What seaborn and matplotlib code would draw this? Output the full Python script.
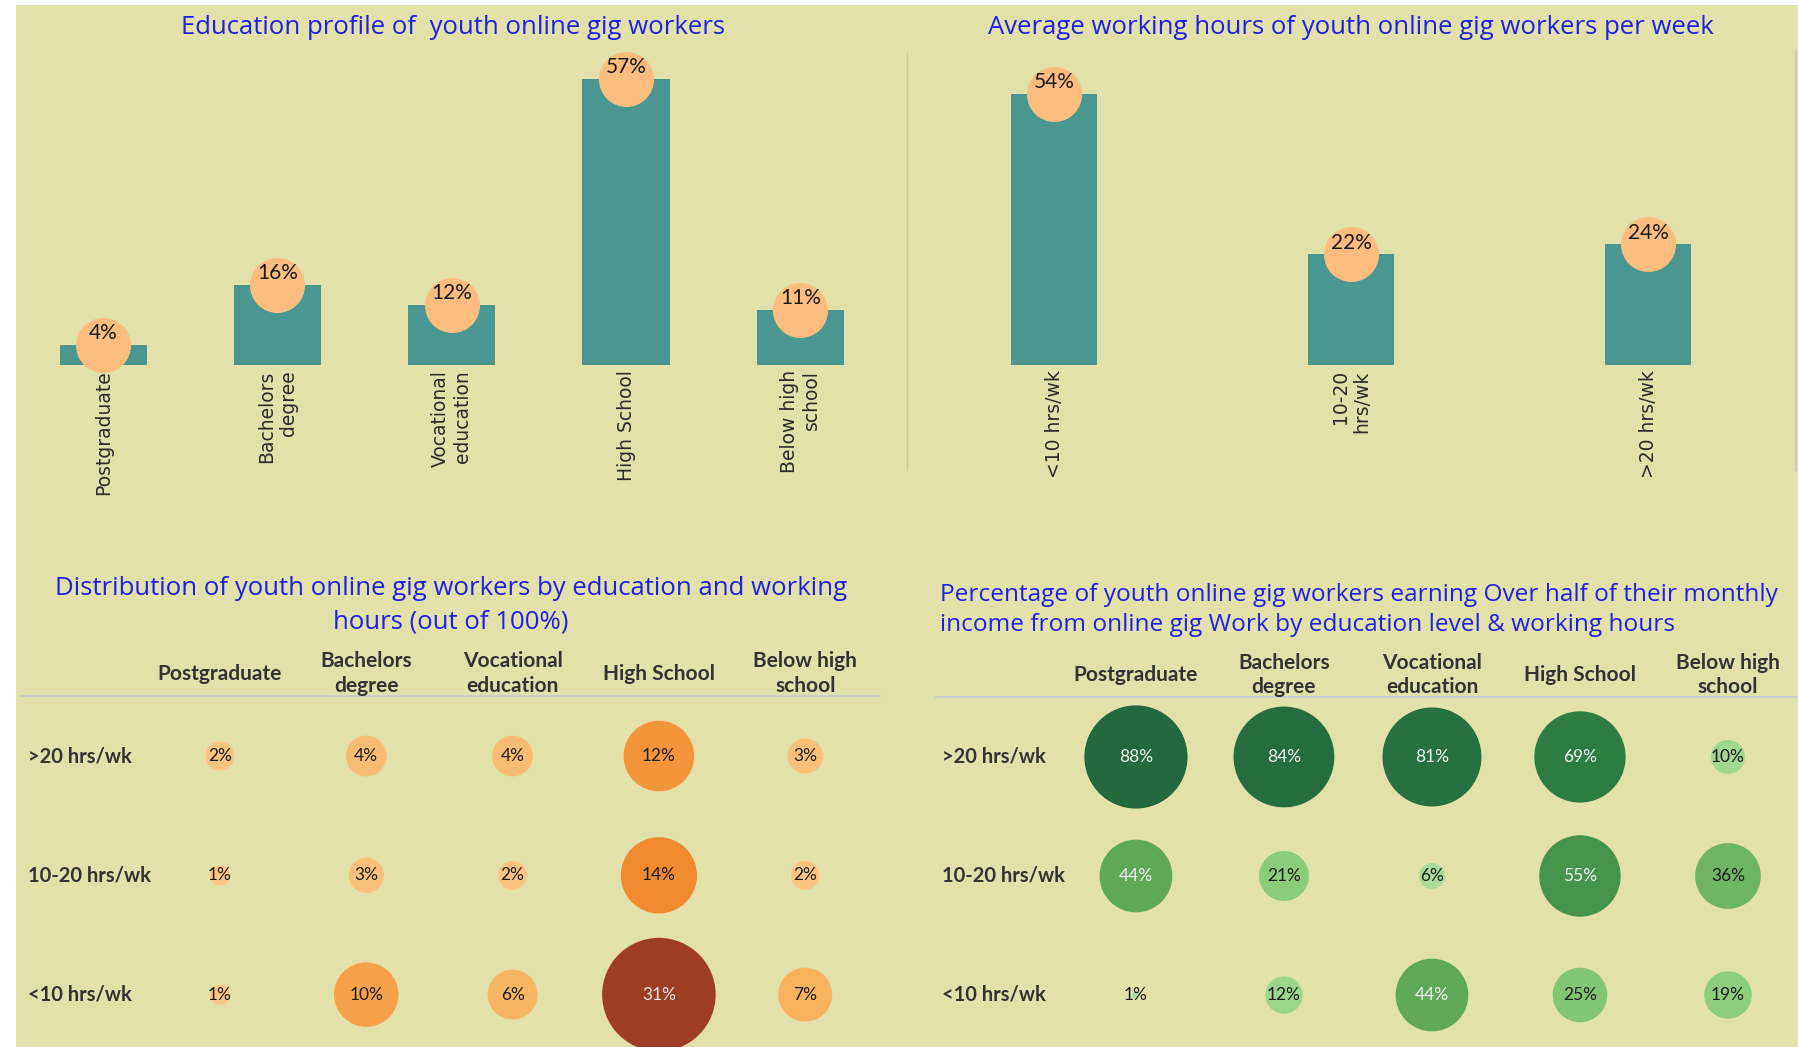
import numpy as np
import pandas as pd
import seaborn as sns
import matplotlib.pyplot as plt
from matplotlib.colors import LinearSegmentedColormap, Normalize
from matplotlib.lines import Line2D
from matplotlib.patches import Rectangle

# --- data ---
edu_labels = ['Postgraduate', 'Bachelors\ndegree', 'Vocational\neducation', 'High School', 'Below high\nschool']
edu_share = [4, 16, 12, 57, 11]

hours_labels = ['<10 hrs/wk', '10-20\nhrs/wk', '>20 hrs/wk']
hours_share = [54, 22, 24]

row_labels = ['>20 hrs/wk', '10-20 hrs/wk', '<10 hrs/wk']

# distribution by education and working hours (out of 100%)
dist_gt20 = [2, 4, 4, 12, 3]
dist_10_20 = [1, 3, 2, 14, 2]
dist_lt10 = [1, 10, 6, 31, 7]

# earning over half of monthly income from gig work
earn_gt20 = [88, 84, 81, 69, 10]
earn_10_20 = [44, 21, 6, 55, 36]
earn_lt10 = [1, 12, 44, 25, 19]

W, H = 1798, 1047
BG = '#E2E1AA'
TEAL = '#4A9792'
PEACH = '#FDBD7E'
BLUE = '#1F1FE5'
DARK = '#333333'
TITLE_FONT = ['Open Sans', 'DejaVu Sans']

orange_cmap = LinearSegmentedColormap.from_list(
    'tab_orange', [(0, '#FDCB8E'), (0.25, '#F8AE57'), (0.45, '#F28A30'), (0.62, '#E0701F'), (1, '#9E3D22')])
green_cmap = LinearSegmentedColormap.from_list(
    'tab_green', [(0, '#B3E0A6'), (0.2, '#8FD07E'), (0.5, '#5EA857'), (0.75, '#2F8042'), (1, '#24693D')])

sns.set_style('white')
plt.rcParams['font.family'] = ['Lato', 'DejaVu Sans']


def px_axes(fig, left, top, right, bottom):
    return fig.add_axes([left / W, 1 - bottom / H, (right - left) / W, (bottom - top) / H])


def long_table(grid):
    recs = []
    for r, vals in enumerate(grid):
        for c, v in enumerate(vals):
            recs.append({'row': r, 'col': c, 'pct': v})
    return pd.DataFrame(recs)


def bar_panel(ax, labels, values, width):
    sns.barplot(x=labels, y=values, color=TEAL, width=width, saturation=1, linewidth=0, ax=ax)
    pos = np.arange(len(values))
    sns.scatterplot(x=pos, y=values, s=1570, color=PEACH, linewidth=0, ax=ax, zorder=3, clip_on=False)
    for i, v in zip(pos, values):
        ax.annotate(f'{v}%', (i, v), xytext=(0, 8.5), textcoords='offset points',
                    ha='center', va='center', fontsize=15, color='#1a1a1a', zorder=4)
    ax.set_xlim(-0.5, len(values) - 0.5)
    ax.set_ylim(0, 70)
    ax.set_facecolor('none')
    sns.despine(ax=ax, left=True, bottom=True)
    ax.set_yticks([])
    ax.tick_params(axis='x', length=0, pad=4, labelsize=13.5, labelcolor='#2a2a2a')
    for lbl in ax.get_xticklabels():
        lbl.set_rotation(90)
        lbl.set_multialignment('right')
        lbl.set_fontfamily('DejaVu Sans')


def bubble_panel(ax, grid, cmap, vmax, smax, size_lo, white_from, white_col):
    df = long_table(grid)
    sns.scatterplot(data=df, x='col', y='row', hue='pct', palette=cmap, hue_norm=(size_lo, vmax),
                    size='pct', sizes=(0, smax), size_norm=(size_lo, vmax),
                    legend=False, linewidth=0, ax=ax, clip_on=True)
    norm = Normalize(size_lo, vmax)
    for _, rec in df.iterrows():
        col = white_col if norm(rec['pct']) >= white_from else '#1e1e1e'
        ax.text(rec['col'], rec['row'], f"{int(rec['pct'])}%", ha='center', va='center',
                fontsize=12.5, color=col)
    for c, name in enumerate(edu_labels):
        ax.text(c, -0.69, name, ha='center', va='center', fontsize=15, fontweight='bold',
                color=DARK, linespacing=1.28)
    for r, name in enumerate(row_labels):
        ax.text(-1.31, r, name, ha='left', va='center', fontsize=14.5, fontweight='bold', color=DARK)
    ax.axhline(-0.5, color='#C5C8D8', lw=1.2)
    ax.set_axis_off()


fig = plt.figure(figsize=(W / 100, H / 100), dpi=100)
fig.patch.set_facecolor('white')
fig.add_artist(Rectangle((16 / W, 0), 1 - 16 / W, 1 - 5 / H, transform=fig.transFigure,
                         facecolor=BG, edgecolor='none', zorder=-10))

# top left: education profile
ax1 = px_axes(fig, 16, 14.0, 887.5, 364.7)
bar_panel(ax1, edu_labels, edu_share, 0.5)

# top right: working hours
ax2 = px_axes(fig, 905.5, 14.0, 1796.5, 364.7)
bar_panel(ax2, hours_labels, hours_share, 0.29)

fig.add_artist(Line2D([907 / W, 907 / W], [1 - 52 / H, 1 - 470 / H], transform=fig.transFigure,
                      color='#C9C8A8', lw=1))
fig.add_artist(Line2D([1796 / W, 1796 / W], [1 - 52 / H, 1 - 470 / H], transform=fig.transFigure,
                      color='#C9C8A8', lw=1.5))

fig.text(453 / W, 1 - 28 / H, 'Education profile of  youth online gig workers', ha='center', va='center',
         fontsize=18.5, color=BLUE, family=TITLE_FONT, fontweight='medium')
fig.text(1351 / W, 1 - 28 / H, 'Average working hours of youth online gig workers per week', ha='center',
         va='center', fontsize=18.5, color=BLUE, family=TITLE_FONT, fontweight='medium')

# bottom left: distribution bubbles
ax3 = px_axes(fig, 19.5, 560, 881, 1047)
ax3.set_xlim(-1.370, 4.518)
ax3.set_ylim(2.439, -1.643)
bubble_panel(ax3, [dist_gt20, dist_10_20, dist_lt10], orange_cmap, 31, 6680, 0, 0.9, '#F3E3EA')

fig.text(451 / W, 1 - 605.5 / H, 'Distribution of youth online gig workers by education and working\nhours (out of 100%)',
         ha='center', va='center', fontsize=18.5, color=BLUE, linespacing=1.45, family=TITLE_FONT,
         fontweight='medium')

# bottom right: earning bubbles
ax4 = px_axes(fig, 934.5, 560, 1798, 1047)
ax4.set_xlim(-1.361, 4.473)
ax4.set_ylim(2.437, -1.655)
bubble_panel(ax4, [earn_gt20, earn_10_20, earn_lt10], green_cmap, 88, 5520, 0.5, 0.49, '#F2F2F2')

fig.text(940 / W, 1 - 610 / H, 'Percentage of youth online gig workers earning Over half of their monthly\n'
         'income from online gig Work by education level & working hours',
         ha='left', va='center', fontsize=17.6, color=BLUE, linespacing=1.35, family=TITLE_FONT,
         fontweight='medium')

fig.savefig('out.png', dpi=100, facecolor=fig.get_facecolor())
